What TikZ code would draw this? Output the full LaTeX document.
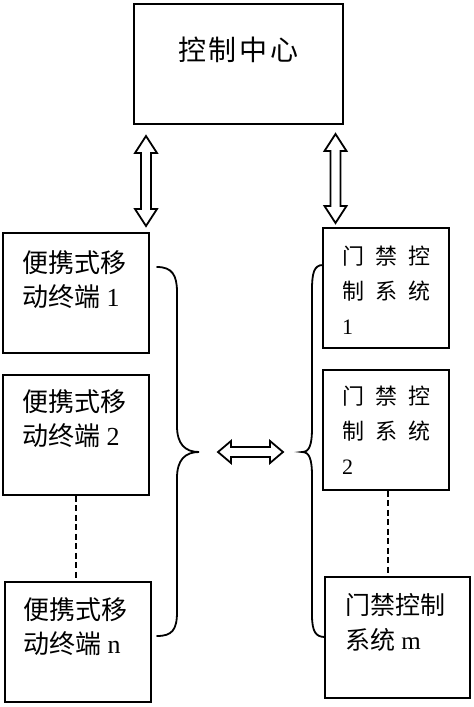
\documentclass[tikz,border=0pt]{standalone}
\usepackage{fontspec}
\setmainfont{Liberation Serif}
\newfontfamily\cjk{Noto Sans CJK SC}
\usetikzlibrary{calc}
\newcommand\hollowarrow[4]{% center, half length, rotation, head length
  \begin{scope}[shift={(#1)}, rotate=#3]
    \draw[arrowline] (-#2,0) -- (-#2+#4,-11) -- (-#2+#4,-5) -- (#2-#4,-5) -- (#2-#4,-11)
      -- (#2,0) -- (#2-#4,11) -- (#2-#4,5) -- (-#2+#4,5) -- (-#2+#4,11) -- cycle;
  \end{scope}}
\begin{document}
\begin{tikzpicture}[x=1pt,y=-1pt,
  box/.style={draw, line width=1.6pt, inner sep=0pt},
  lbl/.style={anchor=north west, inner sep=0pt, align=left},
  arrowline/.style={line width=1.8pt, line join=miter, fill=white},
  brace/.style={line width=1.8pt, line cap=round},
  dashline/.style={line width=1.6pt, dash pattern=on 6pt off 3.5pt}]
\useasboundingbox (0,0) rectangle (474,707);
% boxes
\node[box, minimum width=209pt, minimum height=120pt] (ctrl) at (238.5,64) {};
\node[box, minimum width=146pt, minimum height=120pt] (lb1) at (76,293) {};
\node[box, minimum width=146pt, minimum height=120pt] (lb2) at (76,435) {};
\node[box, minimum width=146pt, minimum height=120pt] (lbn) at (78,642) {};
\node[box, minimum width=126pt, minimum height=120pt] (rb1) at (386,288) {};
\node[box, minimum width=126pt, minimum height=120pt] (rb2) at (386,430) {};
\node[box, minimum width=145pt, minimum height=121pt] (rbm) at (397.5,637.5) {};
% texts
\node[inner sep=0pt, font=\fontsize{28}{34}\selectfont\cjk] (tc) at (238.5,50) {控\hspace{3pt}制\hspace{3pt}中\hspace{3pt}心};
\node[lbl, font=\fontsize{26}{34}\selectfont] (tl1) at (22,250) {{\cjk 便携式移}\\{\cjk 动终端} 1};
\node[lbl, font=\fontsize{26}{34}\selectfont] (tl2) at (22,389) {{\cjk 便携式移}\\{\cjk 动终端} 2};
\node[lbl, font=\fontsize{26}{34}\selectfont] (tln) at (23,597) {{\cjk 便携式移}\\{\cjk 动终端} n};
\node[lbl, font=\fontsize{22}{35}\selectfont] (tr1) at (342,246) {{\cjk 门\hspace{11pt}禁\hspace{11pt}控}\\{\cjk 制\hspace{11pt}系\hspace{11pt}统}\\1};
\node[lbl, font=\fontsize{22}{35}\selectfont] (tr2) at (342,386) {{\cjk 门\hspace{11pt}禁\hspace{11pt}控}\\{\cjk 制\hspace{11pt}系\hspace{11pt}统}\\2};
\node[lbl, font=\fontsize{25}{35}\selectfont] (trm) at (345,593) {{\cjk 门禁控制}\\{\cjk 系统} m};
% dashed links
\draw[dashline] (lb2.south) -- (lb2.south |- lbn.north);
\draw[dashline] ($(rb2.south)+(2,0)$) -- ($(rb2.south |- rbm.north)+(2,0)$);
% hollow double arrows
\coordinate (va) at (146,181);
\coordinate (vb) at (335.5,178.5);
\coordinate (ha) at (250.5,452);
\hollowarrow{va}{45}{90}{17}
\hollowarrow{vb}{44.5}{90}{17}
\hollowarrow{ha}{32.5}{0}{13}
% braces
\coordinate (bl1) at (157,267);
\coordinate (bln) at (157,636);
\coordinate (blt) at (199,452);
\coordinate (br1) at (323,265);
\coordinate (brm) at (325,637);
\coordinate (brt) at (302,452);
\draw[brace] (bl1) .. controls (172,267) and (177,275) .. (177,292) -- (177,426)
  .. controls (177,444) and (185,452) .. (blt)
  .. controls (185,452) and (177,460) .. (177,478) -- (177,612)
  .. controls (177,630) and (172,636) .. (bln);
\draw[brace] (br1) .. controls (314,265) and (312,273) .. (312,290) -- (312,428)
  .. controls (312,446) and (309,452) .. (brt)
  .. controls (309,452) and (312,458) .. (312,476) -- (312,615)
  .. controls (312,632) and (316,637) .. (brm);
\end{tikzpicture}
\end{document}
